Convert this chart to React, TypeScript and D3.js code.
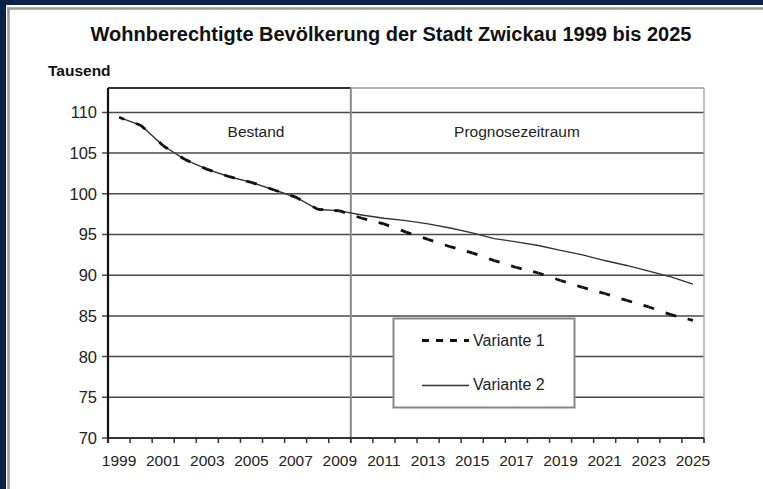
import React from 'react'
import * as d3 from 'd3'

// Werte (Tausend Einwohner)
const years = [1999, 2000, 2001, 2002, 2003, 2004, 2005, 2006, 2007, 2008, 2009, 2010, 2011, 2012,
	2013, 2014, 2015, 2016, 2017, 2018, 2019, 2020, 2021, 2022, 2023, 2024, 2025]
const bestand = [109.4, 108.4, 105.9, 104.2, 103.0, 102.1, 101.4, 100.5, 99.6, 98.1, 97.9]
const variante1 = [97.0, 96.3, 95.3, 94.4, 93.5, 92.75, 91.8, 90.95, 90.27, 89.35, 88.5, 87.75, 86.9, 86.1, 85.15, 84.45]
const variante2 = [97.4, 97.0, 96.7, 96.3, 95.8, 95.2, 94.5, 94.1, 93.65, 93.05, 92.5, 91.8, 91.2, 90.5, 89.8, 88.9]
const yTicks = [70, 75, 80, 85, 90, 95, 100, 105, 110]
const xLabels = [1999, 2001, 2003, 2005, 2007, 2009, 2011, 2013, 2015, 2017, 2019, 2021, 2023, 2025]
const lastBestandYear = 2009

const W = 763
const H = 489
const font = 'Liberation Sans, Arial, sans-serif'

type Pt = { year: number, value: number }

const toPoints = (vals: number[]): Pt[] => vals.map((v, i) => ({ year: years[i], value: v }))

export default function App() {
	const x = d3.scaleBand<number>().domain(years).range([108, 704]).padding(0)
	const y = d3.scaleLinear().domain([70, 113]).range([438, 88])
	const cx = (yr: number) => (x(yr) as number) + x.bandwidth() / 2

	const v1 = toPoints([...bestand, ...variante1])
	const v2 = toPoints([...bestand, ...variante2])

	const line = d3.line<Pt>().x(d => cx(d.year)).y(d => y(d.value))

	// gestrichelt: jedes Segment einzeln, damit die Striche auf den Jahrespunkten sitzen
	const dashSegs = d3.pairs(v1).map(([a, b], i) => {
		const x1 = cx(a.year), y1 = y(a.value), x2 = cx(b.year), y2 = y(b.value)
		const len = Math.hypot(x2 - x1, y2 - y1)
		return { i, x1, y1, x2, y2, dash: `5.5 ${Math.max(len - 11, 0)} 5.5` }
	})

	const tickPos = [...years.map(yr => x(yr) as number), 704]
	const divX = (x(lastBestandYear) as number) + x.bandwidth()

	return (
		<div style={{ position: 'absolute', left: 0, top: 0 }}>
			<svg width={W} height={H} style={{ display: 'block', fontFamily: font }}>
				<rect width={W} height={H} fill="#0b2248" />
				<rect x={6} y={5} width={W - 6} height={H - 5} fill="#fff" />
				<line x1={8.5} x2={8.5} y1={7} y2={H} stroke="#9a9a9a" strokeWidth={2.5} />
				<line x1={7} x2={W} y1={8.5} y2={8.5} stroke="#9a9a9a" strokeWidth={2.5} />

				<text x={391} y={41} textAnchor="middle" fontSize={20} fontWeight="bold" fill="#111">
					Wohnberechtigte Bevölkerung der Stadt Zwickau 1999 bis 2025
				</text>
				<text x={48} y={76} fontSize={15.5} fontWeight="bold" fill="#111">Tausend</text>

				{/* Gitterlinien */}
				{yTicks.map(t => (
					<g key={t}>
						<line x1={102} x2={704} y1={y(t)} y2={y(t)} stroke="#4a4a4a" strokeWidth={1.5} />
						<text x={97} y={y(t)} dy="0.36em" textAnchor="end" fontSize={16.5} fill="#222">{t}</text>
					</g>
				))}

				{/* Rahmen */}
				<line x1={108} x2={divX} y1={88} y2={88} stroke="#333" strokeWidth={1.8} />
				<line x1={divX} x2={704} y1={88} y2={88} stroke="#999" strokeWidth={1.5} />
				<line x1={704} x2={704} y1={88} y2={443} stroke="#aaa" strokeWidth={1.5} />
				<line x1={divX} x2={divX} y1={88} y2={443} stroke="#8a8a8a" strokeWidth={2} />
				<line x1={108} x2={704} y1={438} y2={438} stroke="#333" strokeWidth={1.8} />
				<line x1={108} x2={108} y1={88} y2={443} stroke="#111" strokeWidth={2.2} />

				{tickPos.map((p, i) => (
					<line key={i} x1={p} x2={p} y1={438} y2={443} stroke="#333" strokeWidth={1.5} />
				))}
				{xLabels.map(yr => (
					<text key={yr} x={cx(yr)} y={466} textAnchor="middle" fontSize={15.5} fill="#222">{yr}</text>
				))}

				<text x={256} y={137} textAnchor="middle" fontSize={15.5} fill="#222">Bestand</text>
				<text x={517} y={137} textAnchor="middle" fontSize={15.5} fill="#222">Prognosezeitraum</text>

				{/* Variante 2: durchgezogen */}
				<path d={line(v2) ?? ''} fill="none" stroke="#333" strokeWidth={1.4} />
				{/* Variante 1: gestrichelt */}
				{dashSegs.map(s => (
					<line key={s.i} x1={s.x1} y1={s.y1} x2={s.x2} y2={s.y2}
						stroke="#111" strokeWidth={2.8} strokeDasharray={s.dash} />
				))}

				{/* Legende */}
				<rect x={393.5} y={318.5} width={181} height={89} fill="#fff" stroke="#888" strokeWidth={2} />
				<line x1={422} x2={469} y1={340.5} y2={340.5} stroke="#111" strokeWidth={3} strokeDasharray="7 7" />
				<text x={473} y={346} fontSize={16} fill="#222">Variante 1</text>
				<line x1={422} x2={469} y1={385.5} y2={385.5} stroke="#333" strokeWidth={1.4} />
				<text x={473} y={390} fontSize={16} fill="#222">Variante 2</text>
			</svg>
		</div>
	)
}
